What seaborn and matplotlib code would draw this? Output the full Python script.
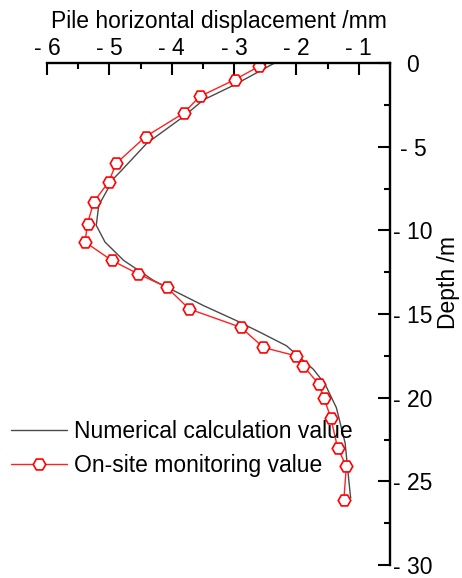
import matplotlib
matplotlib.use("Agg")
import matplotlib.pyplot as plt
from matplotlib.ticker import FixedLocator, FuncFormatter, MultipleLocator
import seaborn as sns
import pandas as pd

# Numerical calculation: depth (m) and horizontal displacement (mm)
calc_depth = [0.0, -1.3, -2.2, -3.2, -4.8, -6.4, -6.9, -8.5, -9.7, -10.7, -11.8,
              -13.0, -14.5, -15.4, -16.1, -16.9, -18.3, -19.2, -20.6, -22.7, -25.7, -26.0]
calc_disp = [-2.35, -2.99, -3.49, -3.81, -4.40, -4.80, -4.93, -5.17, -5.21, -5.07, -4.77,
             -4.29, -3.49, -2.96, -2.58, -2.16, -1.73, -1.54, -1.36, -1.22, -1.14, -1.13]

# On-site monitoring: depth (m) and horizontal displacement (mm)
mon_depth = [-0.2, -1.0, -2.0, -3.0, -4.4, -6.0, -7.1, -8.3, -9.6, -10.7, -11.8, -12.6,
             -13.4, -14.7, -15.8, -17.0, -17.5, -18.1, -19.2, -20.0, -21.2, -23.0, -24.1, -26.1]
mon_disp = [-2.60, -2.99, -3.55, -3.81, -4.42, -4.89, -5.01, -5.25, -5.35, -5.39, -4.96, -4.54,
            -4.08, -3.72, -2.89, -2.53, -2.01, -1.89, -1.64, -1.56, -1.45, -1.34, -1.20, -1.24]

x_ticks = [-6, -5, -4, -3, -2, -1]
y_ticks = [0, -5, -10, -15, -20, -25, -30]

calc = pd.DataFrame({"disp": calc_disp, "depth": calc_depth})
mon = pd.DataFrame({"disp": mon_disp, "depth": mon_depth})

sns.set_style("white")
plt.rcParams["font.family"] = ["Liberation Sans", "DejaVu Sans"]
plt.rcParams["text.color"] = "black"
plt.rcParams["axes.labelcolor"] = "black"
FS = 16.5

fig = plt.figure(figsize=(4.62, 5.78), dpi=100)
ax = fig.add_axes([47 / 462, 1 - 565 / 578, 343 / 462, 502 / 578])

sns.lineplot(data=calc, x="disp", y="depth", sort=False, estimator=None, ax=ax,
             color="#4a4a4a", linewidth=1.0, label="Numerical calculation value")
sns.lineplot(data=mon, x="disp", y="depth", sort=False, estimator=None, ax=ax,
             color="#ff2020", linewidth=1.0, marker="H", markersize=9,
             markerfacecolor="white", markeredgecolor="#ff0000", markeredgewidth=1.2,
             label="On-site monitoring value")

ax.set_xlim(-6, -0.5)
ax.set_ylim(-30, 0)

for side in ("left", "bottom"):
    ax.spines[side].set_visible(False)
for side in ("top", "right"):
    ax.spines[side].set_visible(True)
    ax.spines[side].set_linewidth(1.7)
    ax.spines[side].set_color("black")

def minus_fmt(v, pos):
    v = int(round(v))
    return "0" if v == 0 else f"- {abs(v)}"

ax.xaxis.set_ticks_position("top")
ax.xaxis.set_label_position("top")
ax.xaxis.set_major_locator(FixedLocator(x_ticks))
ax.xaxis.set_minor_locator(MultipleLocator(0.5))
ax.xaxis.set_major_formatter(FuncFormatter(minus_fmt))

ax.yaxis.set_ticks_position("right")
ax.yaxis.set_label_position("right")
ax.yaxis.set_major_locator(FixedLocator(y_ticks))
ax.yaxis.set_minor_locator(MultipleLocator(2.5))
ax.yaxis.set_major_formatter(FuncFormatter(minus_fmt))

ax.tick_params(which="major", direction="in", length=8.5, width=1.5, color="black",
               labelsize=FS, labelcolor="black")
ax.tick_params(which="minor", direction="in", length=4.5, width=1.5, color="black")
ax.tick_params(axis="x", which="major", pad=2.5)
ax.tick_params(axis="y", which="major", pad=16.5)
for lab in ax.get_yticklabels():
    lab.set_horizontalalignment("center")

ax.set_xlabel("Pile horizontal displacement /mm", fontsize=FS, labelpad=6)
ax.set_ylabel("Depth /m", fontsize=FS, rotation=90, va="center")
ax.yaxis.set_label_coords(1.172, 0.562)
ax.grid(False)

leg = ax.legend(loc="center left", bbox_to_anchor=(11 / 462, 1 - 448.5 / 578),
                bbox_transform=fig.transFigure, frameon=False, fontsize=FS,
                borderpad=0, borderaxespad=0, handlelength=2.45, handletextpad=0.3,
                labelspacing=0.45)

fig.savefig("out.png", dpi=100)
